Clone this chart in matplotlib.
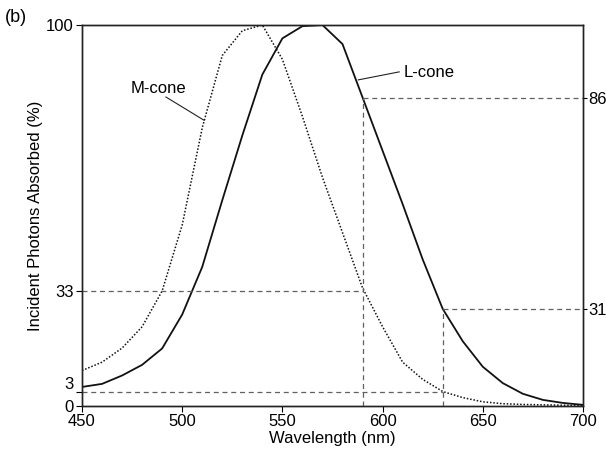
import matplotlib
matplotlib.use('Agg')
import matplotlib.pyplot as plt

plt.rcParams['font.family'] = ['Liberation Sans', 'DejaVu Sans']

# comprimento de onda (nm), passo de 10 nm
comprimento = [450, 460, 470, 480, 490, 500, 510, 520, 530, 540, 550, 560, 570,
               580, 590, 600, 610, 620, 630, 640, 650, 660, 670, 680, 690, 700]

# cone L (linha cheia) e cone M (pontilhado), %
cone_l = [5.0, 5.8, 8.0, 10.8, 15.1, 24.0, 36.5, 54.0, 71.0, 87.0, 96.5, 99.7, 100.0,
          95.0, 81.0, 67.0, 53.0, 38.5, 25.5, 17.0, 10.3, 6.0, 3.2, 1.6, 0.8, 0.3]
cone_m = [9.3, 11.5, 15.2, 20.8, 30.2, 47.5, 73.0, 92.0, 98.5, 100.0, 91.0, 76.0, 60.0,
          45.5, 31.0, 20.8, 11.5, 7.0, 3.8, 2.2, 1.1, 0.6, 0.4, 0.3, 0.2, 0.1]

# linhas de referencia (posicao no grafico, rotulo impresso)
ref_esq_pos = [0, 3.7, 30.2, 100]
ref_esq_txt = ['0', '3', '33', '100']
ref_dir_pos = [80.9, 25.4]
ref_dir_txt = ['86', '31']
x_l590 = 590
x_l630 = 630

fig = plt.figure(figsize=(6.06, 4.59), dpi=100)
ax = fig.add_axes([0.1353, 0.1155, 0.8267, 0.83])

cinza = '#606060'
ax.plot(comprimento, cone_l, color='#111111', lw=1.3)
ax.plot(comprimento, cone_m, color='#111111', lw=1.1, linestyle=(0, (1, 1.2)))

# tracejados
ax.plot([450, x_l590], [ref_esq_pos[2], ref_esq_pos[2]], color=cinza, lw=0.9, dashes=(4, 3))
ax.plot([450, x_l630], [ref_esq_pos[1], ref_esq_pos[1]], color=cinza, lw=0.9, dashes=(4, 3))
ax.plot([x_l590, 700], [ref_dir_pos[0], ref_dir_pos[0]], color=cinza, lw=0.9, dashes=(4, 3))
ax.plot([x_l630, 700], [ref_dir_pos[1], ref_dir_pos[1]], color=cinza, lw=0.9, dashes=(4, 3))
ax.plot([x_l590, x_l590], [0, ref_dir_pos[0]], color=cinza, lw=0.9, dashes=(4, 3))
ax.plot([x_l630, x_l630], [0, ref_dir_pos[1]], color=cinza, lw=0.9, dashes=(4, 3))

# rotulos das curvas
ax.text(488, 83.4, 'M-cone', fontsize=12, ha='center', va='center')
ax.plot([491.9, 510.9], [81.1, 75.0], color='#222222', lw=0.8)
ax.text(623, 87.5, 'L-cone', fontsize=12, ha='center', va='center')
ax.plot([608.3, 587.9], [87.7, 85.6], color='#222222', lw=0.8)

ax.set_xlim(450, 700)
ax.set_ylim(0, 100)
ax.set_xticks([450, 500, 550, 600, 650, 700])
ax.set_yticks(ref_esq_pos)
ax.set_yticklabels(ref_esq_txt)
ax.tick_params(axis='both', labelsize=12, length=4, width=0.8, direction='out', pad=2)
for lab in ax.get_yticklabels():
    if lab.get_text() == '3':
        lab.set_va('bottom')

ax2 = ax.twinx()
ax2.set_ylim(0, 100)
ax2.set_yticks(ref_dir_pos)
ax2.set_yticklabels(ref_dir_txt)
ax2.tick_params(axis='y', labelsize=12, length=3, width=0.8, direction='out', pad=1)

for a in (ax, ax2):
    for s in a.spines.values():
        s.set_linewidth(1.0)
        s.set_color('#222222')

ax.set_xlabel('Wavelength (nm)', fontsize=12, labelpad=1)
ax.set_ylabel('Incident Photons Absorbed (%)', fontsize=12, labelpad=2)
fig.text(0.008, 0.98, '(b)', fontsize=13, ha='left', va='top')

fig.savefig('out.png', dpi=100)
